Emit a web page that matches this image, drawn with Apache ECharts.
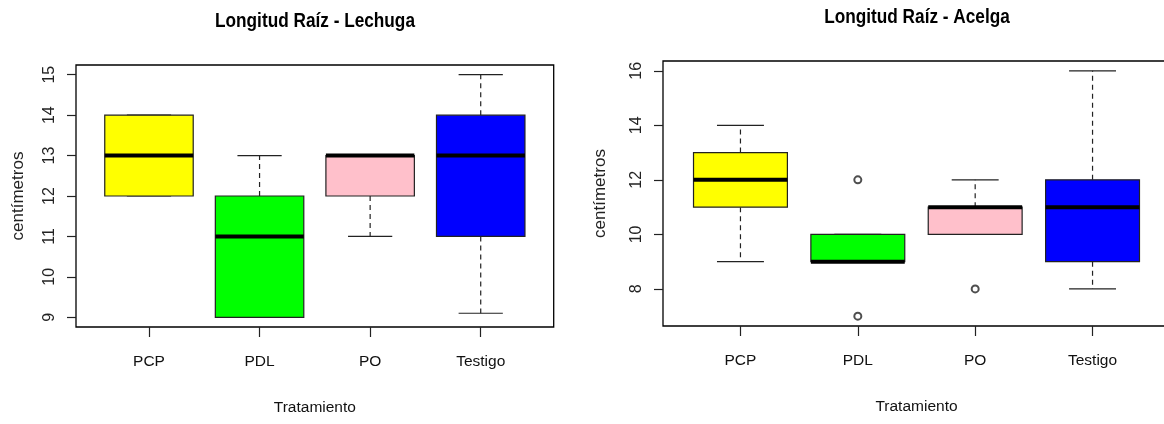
<!DOCTYPE html>
<html><head><meta charset="utf-8">
<script src="https://cdn.jsdelivr.net/npm/echarts@6/dist/echarts.min.js"></script>
<style>html,body{margin:0;padding:0;background:#fff}#c{width:1164px;height:424px}</style>
</head><body><div id="c"></div>
<script>
const categories = ['PCP', 'PDL', 'PO', 'Testigo'];
// [min, q1, median, q3, max]
const lechugaStats = [
  [12, 12, 13, 14, 14],
  [9, 9, 11, 12, 13],
  [11, 12, 13, 13, 13],
  [9.1, 11, 13, 14, 15]
];
const lechugaOutliers = [];
const acelgaStats = [
  [9, 11, 12, 13, 14],
  [9, 9, 9, 10, 10],
  [10, 10, 11, 11, 12],
  [8, 9, 11, 12, 16]
];
// [category position, value]
const acelgaOutliers = [[2, 12], [2, 7], [3, 8]];
const lechugaTicks = [9, 10, 11, 12, 13, 14, 15];
const acelgaTicks = [8, 10, 12, 14, 16];
const catTicks = [1, 2, 3, 4];
const titles = ['Longitud Raíz - Lechuga', 'Longitud Raíz - Acelga'];
const yName = 'centímetros';
const xName = 'Tratamiento';
const boxColors = ['#ffff00', '#00ff00', '#ffc0cb', '#0000ff'];

const REG = '"Liberation Sans", Arial, sans-serif';
const INK = '#222';

function renderBox(params, api) {
  const pos = api.value(0);
  const mn = api.value(1), q1 = api.value(2), md = api.value(3), q3 = api.value(4), mx = api.value(5);
  const x = api.coord([pos, md])[0];
  const hw = api.size([0.8, 0])[0] / 2;
  const sw = hw / 2;
  const y = v => api.coord([pos, v])[1];
  const base = { stroke: INK, lineWidth: 1.2 };
  const ch = [];
  if (mx > q3) ch.push({ type: 'line', shape: { x1: x, y1: y(q3), x2: x, y2: y(mx) }, style: Object.assign({ lineDash: [5, 4] }, base) });
  if (mn < q1) ch.push({ type: 'line', shape: { x1: x, y1: y(q1), x2: x, y2: y(mn) }, style: Object.assign({ lineDash: [5, 4] }, base) });
  ch.push({ type: 'line', shape: { x1: x - sw, y1: y(mx), x2: x + sw, y2: y(mx) }, style: base });
  ch.push({ type: 'line', shape: { x1: x - sw, y1: y(mn), x2: x + sw, y2: y(mn) }, style: base });
  ch.push({ type: 'rect', shape: { x: x - hw, y: y(q3), width: 2 * hw, height: y(q1) - y(q3) },
    style: { fill: boxColors[params.dataIndex], stroke: INK, lineWidth: 1.2 } });
  ch.push({ type: 'line', shape: { x1: x - hw, y1: y(md), x2: x + hw, y2: y(md) }, style: { stroke: '#000', lineWidth: 4 } });
  return { type: 'group', children: ch };
}

function xAxisDef(gi) {
  return {
    gridIndex: gi, type: 'value', min: 0.34, max: 4.66,
    axisLine: { show: false }, splitLine: { show: false },
    axisTick: { show: true, customValues: catTicks, length: 10, lineStyle: { color: INK, width: 1.2 } },
    axisLabel: { customValues: catTicks, formatter: v => categories[Math.round(v) - 1], margin: 27,
      fontFamily: REG, fontSize: 15.5, color: '#111' },
    name: xName, nameLocation: 'middle', nameGap: 73,
    nameTextStyle: { fontFamily: REG, fontSize: 15.5, color: '#111' }
  };
}
function yAxisDef(gi, min, max, ticks, gap) {
  return {
    gridIndex: gi, type: 'value', min: min, max: max,
    axisLine: { show: false }, splitLine: { show: false },
    axisTick: { show: true, customValues: ticks, length: 9, lineStyle: { color: INK, width: 1.2 } },
    axisLabel: { customValues: ticks, rotate: 90, margin: 18, fontFamily: REG, fontSize: 16, color: '#222' },
    name: yName, nameLocation: 'middle', nameRotate: 90, nameGap: gap,
    nameTextStyle: { fontFamily: REG, fontSize: 17, color: '#222' }
  };
}

const chart = echarts.init(document.getElementById('c'));
chart.setOption({
  animation: false,
  backgroundColor: '#fff',
  graphic: [
    { type: 'text', x: 315, y: 21, scaleX: 0.82, style: { text: titles[0], align: 'center', verticalAlign: 'middle', font: 'bold 21px ' + REG, fill: '#000' } },
    { type: 'text', x: 917, y: 17, scaleX: 0.82, style: { text: titles[1], align: 'center', verticalAlign: 'middle', font: 'bold 21px ' + REG, fill: '#000' } }
  ],
  grid: [
    { left: 76, top: 65, width: 477.7, height: 262, outerBoundsMode: 'none', show: true, borderColor: '#000', borderWidth: 1.3, backgroundColor: 'transparent' },
    { left: 663, width: 507, top: 61, height: 265, outerBoundsMode: 'none', show: true, borderColor: '#000', borderWidth: 1.3, backgroundColor: 'transparent' }
  ],
  xAxis: [xAxisDef(0), xAxisDef(1)],
  yAxis: [yAxisDef(0, 8.76, 15.24, lechugaTicks, 49), yAxisDef(1, 6.64, 16.36, acelgaTicks, 54)],
  series: [
    { type: 'custom', xAxisIndex: 0, yAxisIndex: 0, renderItem: renderBox,
      data: lechugaStats.map((s, i) => [i + 1].concat(s)), encode: { x: 0, y: [1, 2, 3, 4, 5] } },
    { type: 'custom', xAxisIndex: 1, yAxisIndex: 1, renderItem: renderBox,
      data: acelgaStats.map((s, i) => [i + 1].concat(s)), encode: { x: 0, y: [1, 2, 3, 4, 5] } },
    { type: 'scatter', xAxisIndex: 0, yAxisIndex: 0, data: lechugaOutliers, symbol: 'emptyCircle', symbolSize: 7,
      itemStyle: { color: INK, borderColor: INK, borderWidth: 1 } },
    { type: 'scatter', xAxisIndex: 1, yAxisIndex: 1, data: acelgaOutliers, symbol: 'emptyCircle', symbolSize: 7,
      itemStyle: { color: INK, borderColor: INK, borderWidth: 1 } }
  ]
});
</script>
</body></html>
